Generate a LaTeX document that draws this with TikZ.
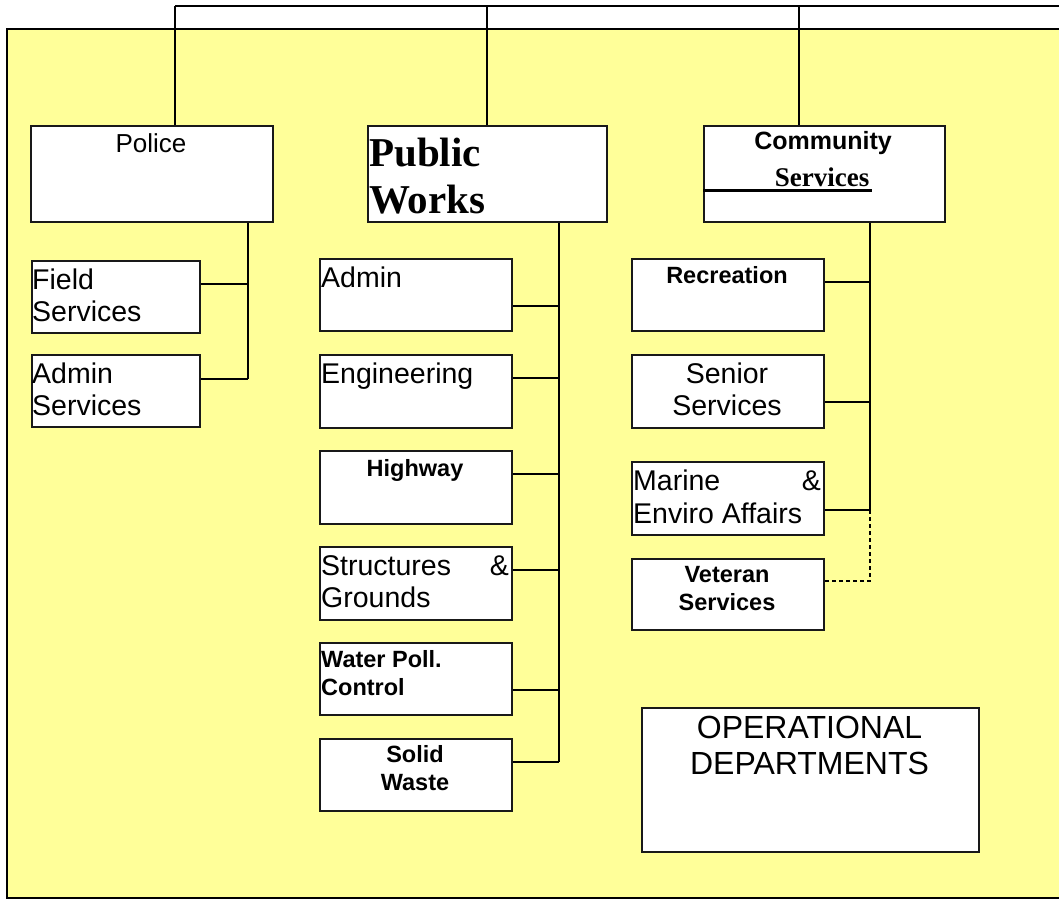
\documentclass[tikz,border=0pt]{standalone}
\usepackage{fontspec}
\setmainfont{Liberation Sans}
\newfontfamily\tnr{Liberation Serif}
\definecolor{paleyellow}{RGB}{255,255,153}
\begin{document}
\begin{tikzpicture}[x=1pt,y=-1pt,
  box/.style={draw=black!90, line width=2pt, fill=white, inner sep=0pt, anchor=north west},
  conn/.style={line width=1.6pt},
  lbl/.style={inner sep=0pt, anchor=base west},
  rlbl/.style={inner sep=0pt, anchor=base east},
  clbl/.style={inner sep=0pt, anchor=base},
  reg/.style={font=\fontsize{28.5}{32}\selectfont},
  bld/.style={font=\bfseries\fontsize{23.5}{28}\selectfont},
]
\useasboundingbox (0,0) rectangle (1059,899);
% background panel
\draw[line width=2pt, fill=paleyellow] (1080,29.5) -- (7,29.5) -- (7,898) -- (1080,898);

% top bar
\coordinate (t1) at (175,6);
\coordinate (t2) at (487,6);
\coordinate (t3) at (799,6);
\coordinate (tend) at (1070,6);

% boxes
\node[box, minimum width=242pt, minimum height=96pt] (police) at (30,125) {};
\node[box, minimum width=239pt, minimum height=96pt] (pw) at (367,125) {};
\node[box, minimum width=241pt, minimum height=96pt] (cs) at (703,125) {};

\node[box, minimum width=168pt, minimum height=72pt] (field) at (31,260) {};
\node[box, minimum width=168pt, minimum height=72pt] (adminsvc) at (31,354) {};

\node[box, minimum width=192pt, minimum height=72pt] (admin) at (319,258) {};
\node[box, minimum width=192pt, minimum height=73pt] (eng) at (319,354) {};
\node[box, minimum width=192pt, minimum height=73pt] (hwy) at (319,450) {};
\node[box, minimum width=192pt, minimum height=73pt] (struct) at (319,546) {};
\node[box, minimum width=192pt, minimum height=72pt] (water) at (319,642) {};
\node[box, minimum width=192pt, minimum height=72pt] (solid) at (319,738) {};

\node[box, minimum width=192pt, minimum height=72pt] (rec) at (631,258) {};
\node[box, minimum width=192pt, minimum height=73pt] (senior) at (631,354) {};
\node[box, minimum width=192pt, minimum height=73pt] (marine) at (631,461) {};
\node[box, minimum width=192pt, minimum height=71pt] (vet) at (631,558) {};

\node[box, minimum width=337pt, minimum height=144pt] (ops) at (641,707) {};

% top connectors
\draw[conn] (t1) -- (tend);
\draw[conn] (t1) -- (t1 |- police.north);
\draw[conn] (t2) -- (t2 |- pw.north);
\draw[conn] (t3) -- (t3 |- cs.north);

% police branch
\coordinate (ptr) at (248,0);
\coordinate (fj) at (248,284);
\coordinate (aj) at (248,379);
\draw[conn] (police.south -| ptr) -- (aj);
\draw[conn] (fj -| field.east) -- (fj);
\draw[conn] (aj -| adminsvc.east) -- (aj);

% public works branch
\coordinate (wtr) at (559,0);
\coordinate (wj1) at (559,306);
\coordinate (wj2) at (559,378);
\coordinate (wj3) at (559,474);
\coordinate (wj4) at (559,570);
\coordinate (wj5) at (559,690);
\coordinate (wj6) at (559,762);
\draw[conn] (pw.south -| wtr) -- (wj6);
\draw[conn] (wj1 -| admin.east) -- (wj1);
\draw[conn] (wj2 -| eng.east) -- (wj2);
\draw[conn] (wj3 -| hwy.east) -- (wj3);
\draw[conn] (wj4 -| struct.east) -- (wj4);
\draw[conn] (wj5 -| water.east) -- (wj5);
\draw[conn] (wj6 -| solid.east) -- (wj6);

% community services branch
\coordinate (ctr) at (870,0);
\coordinate (cj1) at (870,282);
\coordinate (cj2) at (870,402);
\coordinate (cj3) at (870,510);
\coordinate (cj4) at (870,581);
\draw[conn] (cs.south -| ctr) -- (cj3);
\draw[conn] (cj1 -| rec.east) -- (cj1);
\draw[conn] (cj2 -| senior.east) -- (cj2);
\draw[conn] (cj3 -| marine.east) -- (cj3);
\draw[line width=1.3pt, dash pattern=on 4pt off 3pt] (cj3) -- (cj4) -- (cj4 -| vet.east);

% texts
\node[clbl, font=\fontsize{26}{30}\selectfont] (tpolice) at (151,152) {Police};
\node[lbl, font=\tnr\bfseries\fontsize{41}{47}\selectfont] (tpub) at (369,166) {Public};
\node[lbl, font=\tnr\bfseries\fontsize{41}{47}\selectfont] (twork) at (369,213) {Works};
\node[clbl, font=\bfseries\fontsize{25}{30}\selectfont] (tcomm) at (823,149) {Community};
\node[clbl, font=\tnr\bfseries\fontsize{27}{30}\selectfont] (tcsvc) at (822,186) {Services};
\draw[line width=3pt] (cs.west |- 0,190) -- (872,190);

\node[lbl, reg] (tfield) at (32,289) {Field};
\node[lbl, reg] (tfsvc) at (32,321) {Services};
\node[lbl, reg] (tadm1) at (32,383) {Admin};
\node[lbl, reg] (tadm2) at (32,415) {Services};

\node[lbl, reg] (tadmin) at (321,287) {Admin};
\node[lbl, reg] (teng) at (321,383) {Engineering};
\node[clbl, bld] (thwy) at (415,476) {Highway};
\node[lbl, reg] (tstr) at (321,575) {Structures};
\node[rlbl, reg] (tamp1) at (509,575) {\&};
\node[lbl, reg] (tgrd) at (321,607) {Grounds};
\node[lbl, bld] (twat1) at (321,667) {Water Poll.};
\node[lbl, bld] (twat2) at (321,695) {Control};
\node[clbl, bld] (tsol1) at (415,762) {Solid};
\node[clbl, bld] (tsol2) at (415,790) {Waste};

\node[clbl, bld] (trec) at (727,283) {Recreation};
\node[clbl, reg] (tsen1) at (727,383) {Senior};
\node[clbl, reg] (tsen2) at (727,415) {Services};
\node[lbl, reg] (tmar1) at (633,490) {Marine};
\node[rlbl, reg] (tamp2) at (821,490) {\&};
\node[lbl, reg] (tmar2) at (633,523) {Enviro Affairs};
\node[clbl, bld] (tvet1) at (727,582) {Veteran};
\node[clbl, bld] (tvet2) at (727,610) {Services};

\node[clbl, font=\fontsize{32}{36}\selectfont] (tops1) at (809.5,738) {OPERATIONAL};
\node[clbl, font=\fontsize{32}{36}\selectfont] (tops2) at (809.5,774) {DEPARTMENTS};
\end{tikzpicture}
\end{document}
